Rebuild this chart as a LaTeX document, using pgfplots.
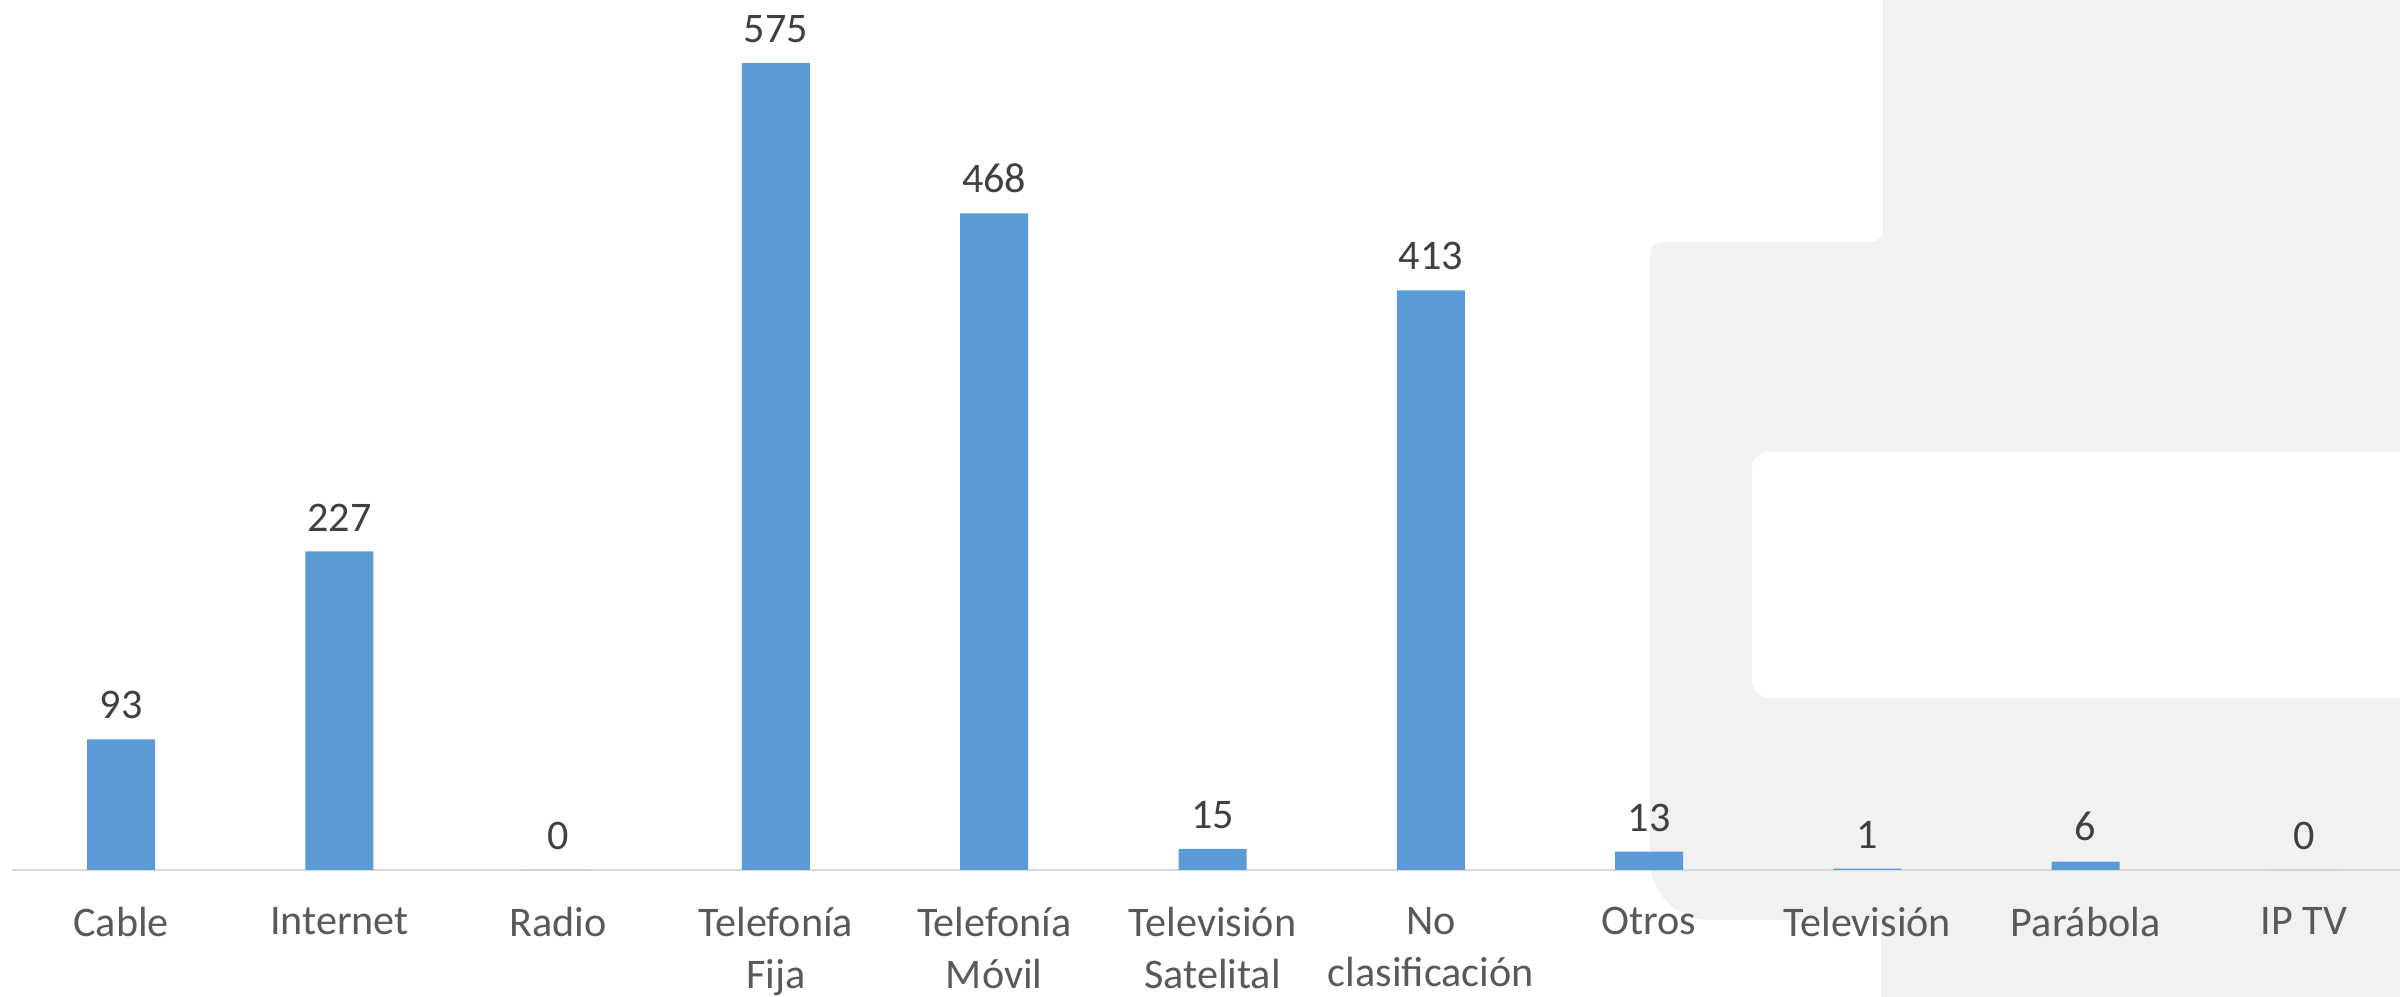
\documentclass[border=0pt]{standalone}
\usepackage{pgfplots}
\pgfplotsset{compat=1.18}
\usepackage{fontspec}
\setmainfont{Carlito}
\definecolor{barblue}{HTML}{5B9BD5}
\definecolor{bggray}{RGB}{240,241,240}
\definecolor{axisgray}{HTML}{D9D9D9}
\definecolor{labeldark}{HTML}{404040}
\definecolor{tickgray}{HTML}{595959}
\begin{document}
\begin{tikzpicture}
\useasboundingbox (0,0) rectangle (24,9.97);
% decorative background
\fill[bggray] (18.83,10.5) -- (24.5,10.5) -- (24.5,-0.5) -- (18.81,-0.5)
  [rounded corners=1mm] -- (18.81,0.77) [rounded corners=6mm] -- (16.50,0.77)
  [rounded corners=1.2mm] -- (16.50,7.55) -- (18.83,7.55) [sharp corners] -- cycle;
\fill[white, rounded corners=1.7mm] (17.52,2.99) rectangle (25,5.45);
\begin{axis}[
  at={(0.12cm,1.27cm)}, anchor=south west,
  scale only axis,
  width=24.01cm, height=8.70cm,
  xmin=-0.5, xmax=10.5,
  ymin=0, ymax=620,
  axis y line=none,
  axis x line*=bottom,
  x axis line style={draw=axisgray, line width=0.6pt, -},
  major tick length=0pt,
  ytick=\empty,
  xtick={0,...,10},
  xticklabels={Cable, Internet, Radio, {Telefonía\\Fija}, {Telefonía\\Móvil}, {Televisión\\Satelital}, {No\\clasificación}, Otros, Televisión, Parábola, IP TV},
  xticklabel style={align=center, font=\fontsize{12}{14.8}\selectfont, text=tickgray, yshift=-2.5mm},
  ybar, bar width=6.8mm,
  nodes near coords,
  every node near coord/.append style={font=\fontsize{12}{14.8}\selectfont, text=labeldark, yshift=0.8mm},
  /pgf/number format/assume math mode=true,
  clip=false,
]
\addplot[fill=barblue, draw=none] coordinates {
  (0,93) (1,227) (2,0) (3,575) (4,468) (5,15) (6,413) (7,13) (8,1) (9,6) (10,0)
};
\end{axis}
\end{tikzpicture}
\end{document}
